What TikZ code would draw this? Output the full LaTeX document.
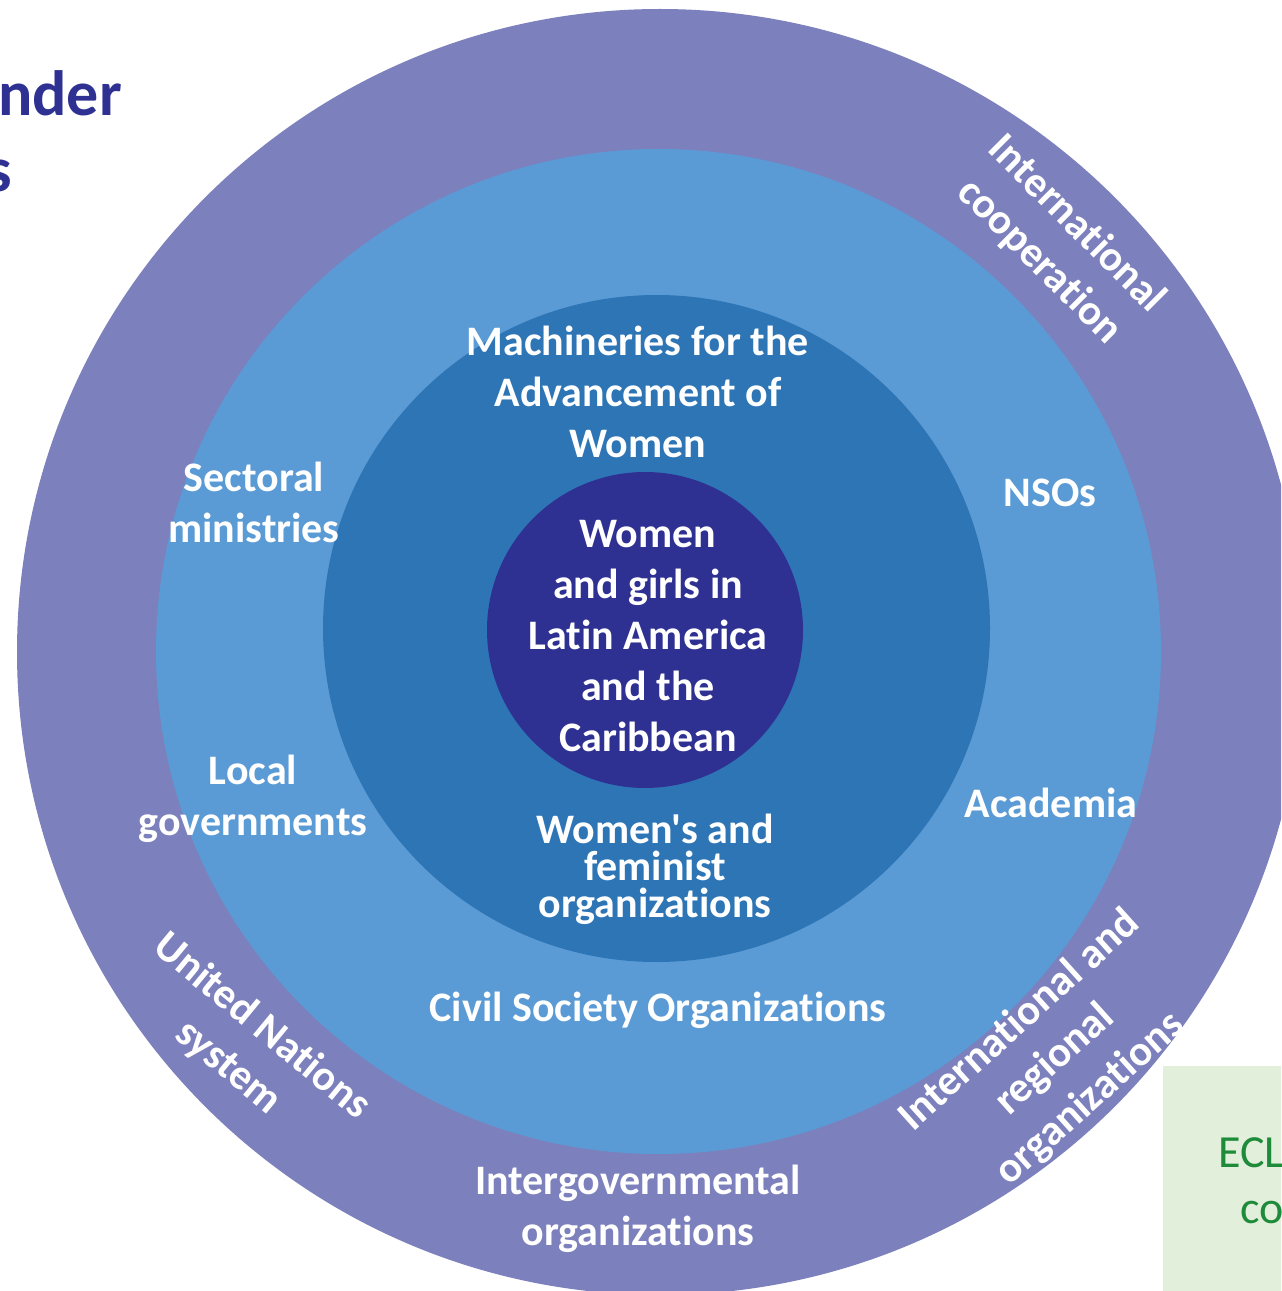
\documentclass[tikz,border=0pt]{standalone}
\usepackage{fontspec}
\setmainfont{Carlito}[Ligatures={TeXOff,NoCommon}]
\definecolor{ringouter}{HTML}{7C80BC}
\definecolor{ringlight}{HTML}{5B9BD5}
\definecolor{ringmid}{HTML}{2E75B6}
\definecolor{ringcore}{HTML}{2E3192}
\definecolor{boxgreen}{HTML}{E2EFDA}
\definecolor{txtgreen}{HTML}{1E8B3A}
\begin{document}
\begin{tikzpicture}[x=0.75pt,y=-0.75pt,
  disc/.style={circle, inner sep=0pt, draw=none},
  lbl/.style={text=white, align=center, inner sep=0pt,
    font=\bfseries\fontsize{31.5}{38.25}\selectfont},
  lbltight/.style={text=white, align=center, inner sep=0pt,
    font=\bfseries\fontsize{31.5}{27.75}\selectfont},
  lblring/.style={text=white, align=center, inner sep=0pt,
    font=\bfseries\fontsize{32}{39.5}\selectfont},
  titletxt/.style={text=ringcore, inner sep=0pt, anchor=base east,
    font=\bfseries\fontsize{48}{58}\selectfont},
  greentxt/.style={text=txtgreen, inner sep=0pt, anchor=base west,
    font=\fontsize{34.5}{41}\selectfont}]
\useasboundingbox (0,0) rectangle (1281,1291);
\clip (0,0) rectangle (1281,1291);
\fill[white] (0,0) rectangle (1281,1291);

% title fragments
\node[titletxt] (title1) at (122,116) {nder};
\node[titletxt] (title2) at (12,192) {s};

% green box
\fill[boxgreen] (1163,1066) rectangle (1300,1300);
\node[greentxt] (ecl) at (1218,1167) {ECL};
\node[greentxt] (co) at (1240,1223) {co};

% rings
\node[disc, fill=ringouter, minimum size=964.5pt] (outer) at (660,652) {};
\node[disc, fill=ringlight, minimum size=753.75pt] (light) at (658.5,651.5) {};
\node[disc, fill=ringmid, minimum size=500.25pt] (mid) at (656.5,628.5) {};
\node[disc, fill=ringcore, minimum size=237pt] (core) at (645,630) {};

% core
\node[lbl] (women) at (648,636) {Women\\and girls in\\Latin America\\and the\\Caribbean};

% mid ring
\node[lbl] (mach) at (638,392) {Machineries for the\\Advancement of\\Women};
\node[lbltight] (wfo) at (655,869) {Women's and\\feminist\\organizations};

% light ring
\node[lbl] (sect) at (254,502) {Sectoral\\ministries};
\node[lbl] (local) at (253,799) {Local\\governments};
\node[lbl] (nso) at (1050,493) {NSOs};
\node[lbl] (acad) at (1051,803) {Academia};
\node[lbl] (cso) at (658,1010) {Civil Society Organizations};

% outer ring
\node[lbl] (igo) at (638,1209) {Intergovernmental\\organizations};
\node[lblring, rotate=-45] (intcoop) at (1058,243) {International\\cooperation};
\node[lblring, rotate=-39.5] (uns) at (245,1047) {United Nations\\system};
\node[lblring, rotate=42] (iro) at (1055,1060) {International and\\regional\\organizations};
\end{tikzpicture}
\end{document}
